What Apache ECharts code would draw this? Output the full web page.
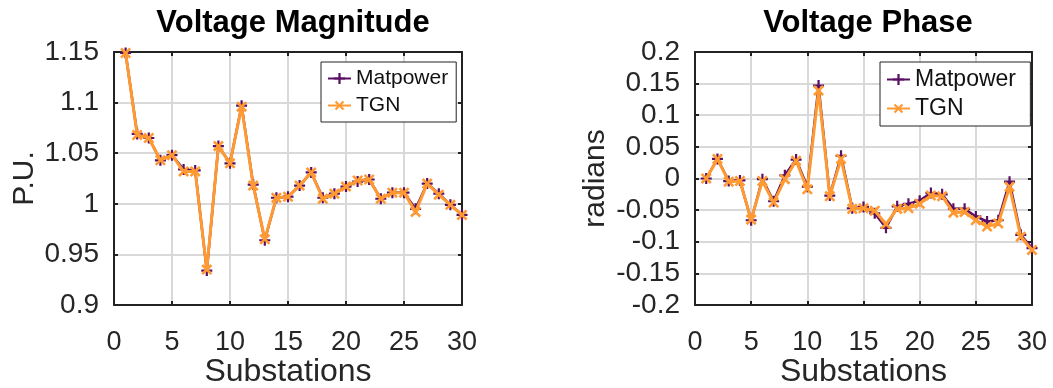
<!DOCTYPE html>
<html>
<head>
<meta charset="utf-8">
<script src="https://cdn.jsdelivr.net/npm/echarts@6/dist/echarts.min.js"></script>
<style>
  html, body { margin: 0; padding: 0; background: #fff; }
  #main { width: 1053px; height: 388px; }
</style>
</head>
<body>
<div id="main"></div>
<script>
const substations = [1, 2, 3, 4, 5, 6, 7, 8, 9, 10, 11, 12, 13, 14, 15, 16, 17, 18, 19, 20, 21, 22, 23, 24, 25, 26, 27, 28, 29, 30]

const magMatpower = [1.149, 1.069, 1.065, 1.043, 1.048, 1.034, 1.033, 0.934, 1.057, 1.040, 1.097, 1.019, 0.964, 1.006, 1.007, 1.018, 1.031, 1.006, 1.010, 1.017, 1.022, 1.024, 1.005, 1.011, 1.011, 0.995, 1.020, 1.010, 0.999, 0.989]
const magTGN = [1.149, 1.068, 1.065, 1.043, 1.048, 1.032, 1.032, 0.935, 1.057, 1.040, 1.096, 1.018, 0.965, 1.006, 1.007, 1.018, 1.031, 1.005, 1.010, 1.017, 1.023, 1.024, 1.005, 1.011, 1.011, 0.992, 1.020, 1.009, 0.999, 0.989]

const phaseMatpower = [0.000, 0.031, -0.004, -0.003, -0.066, -0.001, -0.036, 0.005, 0.030, -0.013, 0.147, -0.027, 0.036, -0.047, -0.045, -0.055, -0.078, -0.044, -0.040, -0.035, -0.023, -0.025, -0.048, -0.048, -0.060, -0.068, -0.066, -0.005, -0.089, -0.110]
const phaseTGN = [0.000, 0.031, -0.005, -0.004, -0.065, -0.004, -0.038, -0.001, 0.028, -0.017, 0.139, -0.028, 0.031, -0.048, -0.047, -0.051, -0.072, -0.048, -0.047, -0.040, -0.027, -0.028, -0.054, -0.053, -0.066, -0.076, -0.071, -0.013, -0.092, -0.113]

const xTicks = [0, 5, 10, 15, 20, 25, 30]

const purple = '#5b0f64'
const orange = '#ff9a33'
const textColor = '#262626'
const font = 'Liberation Sans'
const plusPath = 'path://M4,0h2v4h4v2h-4v4h-2v-4h-4v-2h4z'

function pairs(ys) {
  return substations.map((x, i) => [x, ys[i]])
}

function xAxes(gridIndex) {
  return [
    {
      gridIndex,
      type: 'value',
      min: xTicks[0],
      max: xTicks[xTicks.length - 1],
      interval: 5,
      name: 'Substations',
      nameLocation: 'middle',
      nameGap: 51,
      nameMoveOverlap: false,
      nameTextStyle: { fontFamily: font, fontSize: 32, color: textColor },
      axisLine: { show: true, onZero: false, lineStyle: { color: '#222', width: 2 } },
      axisTick: { show: true, inside: true, length: 4, lineStyle: { color: '#222', width: 2 } },
      axisLabel: { fontFamily: font, fontSize: 27, color: textColor, margin: 24 },
      splitLine: { show: true, lineStyle: { color: '#d9d9d9', width: 2 } }
    },
    {
      gridIndex,
      type: 'value',
      position: 'top',
      min: xTicks[0],
      max: xTicks[xTicks.length - 1],
      interval: 5,
      axisLine: { show: true, onZero: false, lineStyle: { color: '#222', width: 2 } },
      axisTick: { show: true, inside: true, length: 4, lineStyle: { color: '#222', width: 2 } },
      axisLabel: { show: false },
      splitLine: { show: false }
    }
  ]
}

function yAxes(gridIndex, min, max, name, gap) {
  return [
    {
      gridIndex,
      type: 'value',
      min,
      max,
      interval: 0.05,
      name,
      nameLocation: 'middle',
      nameGap: gap,
      nameMoveOverlap: false,
      nameTextStyle: { fontFamily: font, fontSize: 30, color: textColor },
      axisLine: { show: true, onZero: false, lineStyle: { color: '#222', width: 2 } },
      axisTick: { show: true, inside: true, length: 4, lineStyle: { color: '#222', width: 2 } },
      axisLabel: {
        fontFamily: font, fontSize: 28, color: textColor, margin: 15,
        formatter: v => String(Math.round(v * 100) / 100)
      },
      splitLine: { show: true, lineStyle: { color: '#d9d9d9', width: 2 } }
    },
    {
      gridIndex,
      type: 'value',
      position: 'right',
      min,
      max,
      interval: 0.05,
      axisLine: { show: true, onZero: false, lineStyle: { color: '#222', width: 2 } },
      axisTick: { show: true, inside: true, length: 4, lineStyle: { color: '#222', width: 2 } },
      axisLabel: { show: false },
      splitLine: { show: false }
    }
  ]
}

function series(name, data, axisIndex, isTGN) {
  return {
    name,
    type: 'line',
    xAxisIndex: axisIndex,
    yAxisIndex: axisIndex,
    data: pairs(data),
    symbol: plusPath,
    symbolSize: isTGN ? 13 : 11,
    symbolRotate: isTGN ? 45 : 0,
    showAllSymbol: true,
    color: isTGN ? orange : purple,
    lineStyle: { width: isTGN ? 3 : 2.5, color: isTGN ? orange : purple },
    itemStyle: { color: isTGN ? orange : purple },
    animation: false,
    z: isTGN ? 3 : 2
  }
}

function legend(left, top, seriesNames, fontSize) {
  return {
    left,
    top,
    orient: 'vertical',
    data: seriesNames,
    borderColor: '#222',
    borderWidth: 1,
    borderRadius: 0,
    padding: [6, 8, 6, 6],
    itemGap: 6,
    itemWidth: 23,
    itemHeight: 14,
    backgroundColor: '#fff',
    textStyle: { fontFamily: font, fontSize, color: '#111', padding: [0, 0, 0, 0] }
  }
}

const chart = echarts.init(document.getElementById('main'), null, { renderer: 'canvas' })

const option = {
  animation: false,
  backgroundColor: '#fff',
  title: [
    {
      text: 'Voltage Magnitude',
      left: 288,
      top: 3,
      textAlign: 'center',
      textStyle: { fontFamily: font, fontSize: 31, fontWeight: 'bold', color: '#000' }
    },
    {
      text: 'Voltage Phase',
      left: 863,
      top: 3,
      textAlign: 'center',
      textStyle: { fontFamily: font, fontSize: 31, fontWeight: 'bold', color: '#000' }
    }
  ],
  legend: [
    legend(321, 62, ['Matpower', 'TGN'], 21),
    legend(880, 62, ['Matpower ', 'TGN '], 23)
  ],
  grid: [
    { left: 114, top: 52, width: 348, height: 253, outerBoundsMode: 'none' },
    { left: 695, top: 52, width: 337, height: 253, outerBoundsMode: 'none' }
  ],
  xAxis: [...xAxes(0), ...xAxes(1)],
  yAxis: [...yAxes(0, 0.9, 1.15, 'P.U.', 74), ...yAxes(1, -0.2, 0.2, 'radians', 84)],
  series: [
    series('Matpower', magMatpower, 0, false),
    series('TGN', magTGN, 0, true),
    series('Matpower ', phaseMatpower, 2, false),
    series('TGN ', phaseTGN, 2, true)
  ]
}

chart.setOption(option)
</script>
</body>
</html>
